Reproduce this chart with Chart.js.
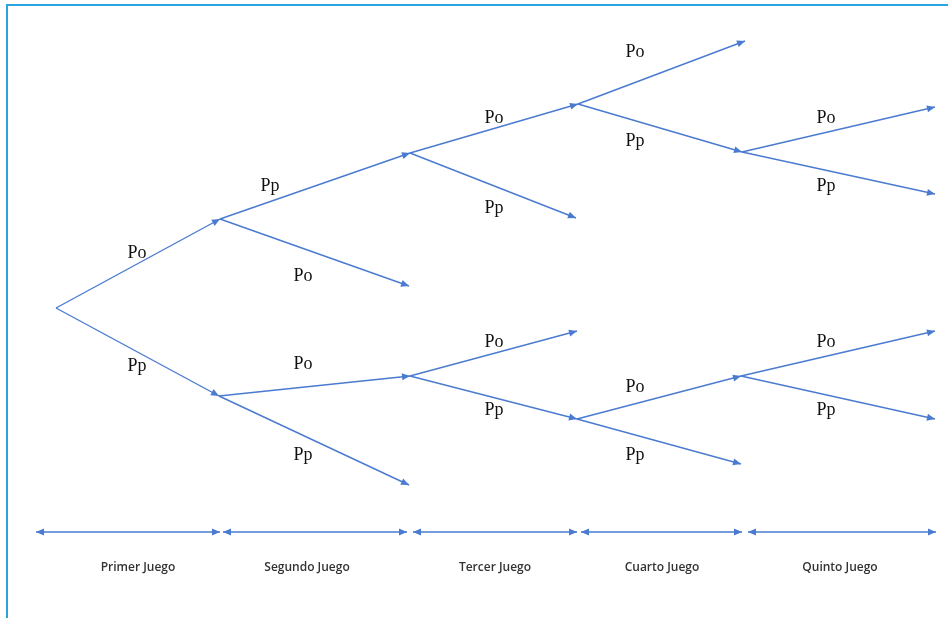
<!DOCTYPE html>
<html>
<head>
<meta charset="utf-8">
<script src="https://cdn.jsdelivr.net/npm/chart.js@4"></script>
<style>
  html, body { margin: 0; padding: 0; background: #fff; }
  #wrap { position: relative; width: 948px; height: 618px; }
  #frame { position: absolute; left: 6px; top: 4px; right: 0; bottom: 0;
           border-top: 2px solid #2aa4df; border-left: 2px solid #2aa4df; }
  canvas { position: absolute; left: 0; top: 0; }
</style>
</head>
<body>
<div id="wrap">
  <div id="frame"></div>
  <canvas id="tree" width="948" height="618"></canvas>
</div>
<script>
// --- Tree data (in picture units) ---
const nodeX = [56, 220, 219, 410, 409, 410, 409, 578, 576, 577, 577, 745, 742, 741, 741, 935, 935, 935, 935];
const nodeY = [308, 219, 396, 153, 286, 376, 485, 104, 218, 331, 419, 41, 152, 376, 464, 107, 194, 331, 419];

const edgeFrom  = [0, 0, 1, 1, 2, 2, 3, 3, 5, 5, 7, 7, 10, 10, 12, 12, 13, 13];
const edgeTo    = [1, 2, 3, 4, 5, 6, 7, 8, 9, 10, 11, 12, 13, 14, 15, 16, 17, 18];
const edgeLabel = ['Po', 'Pp', 'Pp', 'Po', 'Po', 'Pp', 'Po', 'Pp', 'Po', 'Pp',
                   'Po', 'Pp', 'Po', 'Pp', 'Po', 'Pp', 'Po', 'Pp'];
const labelX = [137, 137, 270, 303, 303, 303, 494, 494, 494, 494, 635, 635, 635, 635, 826, 826, 826, 826];
const labelY = [253, 366, 186, 276, 364, 455, 118, 208, 342, 410, 52, 141, 387, 455, 118, 186, 342, 410];

// Timeline of games along the bottom
const gameNames = ['Primer Juego', 'Segundo Juego', 'Tercer Juego', 'Cuarto Juego', 'Quinto Juego'];
const gameStart = [36, 223, 413, 581, 748];
const gameEnd   = [220, 407, 577, 742, 936];
const gameLabelX = [138, 307, 495, 662, 840];
const timelineY = 532;
const gameLabelY = 568;

const BLUE = '#4a7bd0';

// --- Build datasets ---
const datasets = [];
edgeFrom.forEach((f, i) => {
    const t = edgeTo[i];
    datasets.push({
        data: [{ x: nodeX[f], y: nodeY[f] }, { x: nodeX[t], y: nodeY[t] }],
        arrows: 'end'
    });
});
gameStart.forEach((s, i) => {
    datasets.push({
        data: [{ x: s, y: timelineY }, { x: gameEnd[i], y: timelineY }],
        arrows: 'both'
    });
});
datasets.forEach(d => {
    d.showLine = true;
    d.borderColor = BLUE;
    d.borderWidth = 1.4;
    d.pointRadius = 0;
    d.clip = false;
});

// Arrowheads + texts
function arrowHead(ctx, x1, y1, x2, y2) {
    const a = Math.atan2(y2 - y1, x2 - x1);
    const len = 8, half = 3.5;
    ctx.beginPath();
    ctx.moveTo(x2, y2);
    ctx.lineTo(x2 - len * Math.cos(a) + half * Math.sin(a), y2 - len * Math.sin(a) - half * Math.cos(a));
    ctx.lineTo(x2 - len * Math.cos(a) - half * Math.sin(a), y2 - len * Math.sin(a) + half * Math.cos(a));
    ctx.closePath();
    ctx.fill();
}

const decorPlugin = {
    id: 'decor',
    afterDatasetsDraw(chart) {
        const ctx = chart.ctx;
        const xs = chart.scales.x, ys = chart.scales.y;
        ctx.save();
        ctx.fillStyle = BLUE;
        chart.data.datasets.forEach(d => {
            const p0 = d.data[0], p1 = d.data[1];
            const x0 = xs.getPixelForValue(p0.x), y0 = ys.getPixelForValue(p0.y);
            const x1 = xs.getPixelForValue(p1.x), y1 = ys.getPixelForValue(p1.y);
            arrowHead(ctx, x0, y0, x1, y1);
            if (d.arrows === 'both') arrowHead(ctx, x1, y1, x0, y0);
        });

        ctx.fillStyle = '#111';
        ctx.font = '18px "Liberation Serif", serif';
        ctx.textAlign = 'center';
        ctx.textBaseline = 'middle';
        edgeLabel.forEach((t, i) => {
            ctx.fillText(t, xs.getPixelForValue(labelX[i]), ys.getPixelForValue(labelY[i]));
        });

        ctx.fillStyle = '#333';
        ctx.font = '600 12px "Open Sans", sans-serif';
        gameNames.forEach((t, i) => {
            ctx.fillText(t, xs.getPixelForValue(gameLabelX[i]), ys.getPixelForValue(gameLabelY));
        });
        ctx.restore();
    }
};

new Chart(document.getElementById('tree'), {
    type: 'scatter',
    data: { datasets },
    options: {
        responsive: false,
        animation: false,
        layout: { padding: 0 },
        plugins: { legend: { display: false }, tooltip: { enabled: false } },
        scales: {
            x: { type: 'linear', min: 0, max: 948, display: false },
            y: { type: 'linear', min: 0, max: 618, reverse: true, display: false }
        }
    },
    plugins: [decorPlugin]
});
</script>
</body>
</html>
